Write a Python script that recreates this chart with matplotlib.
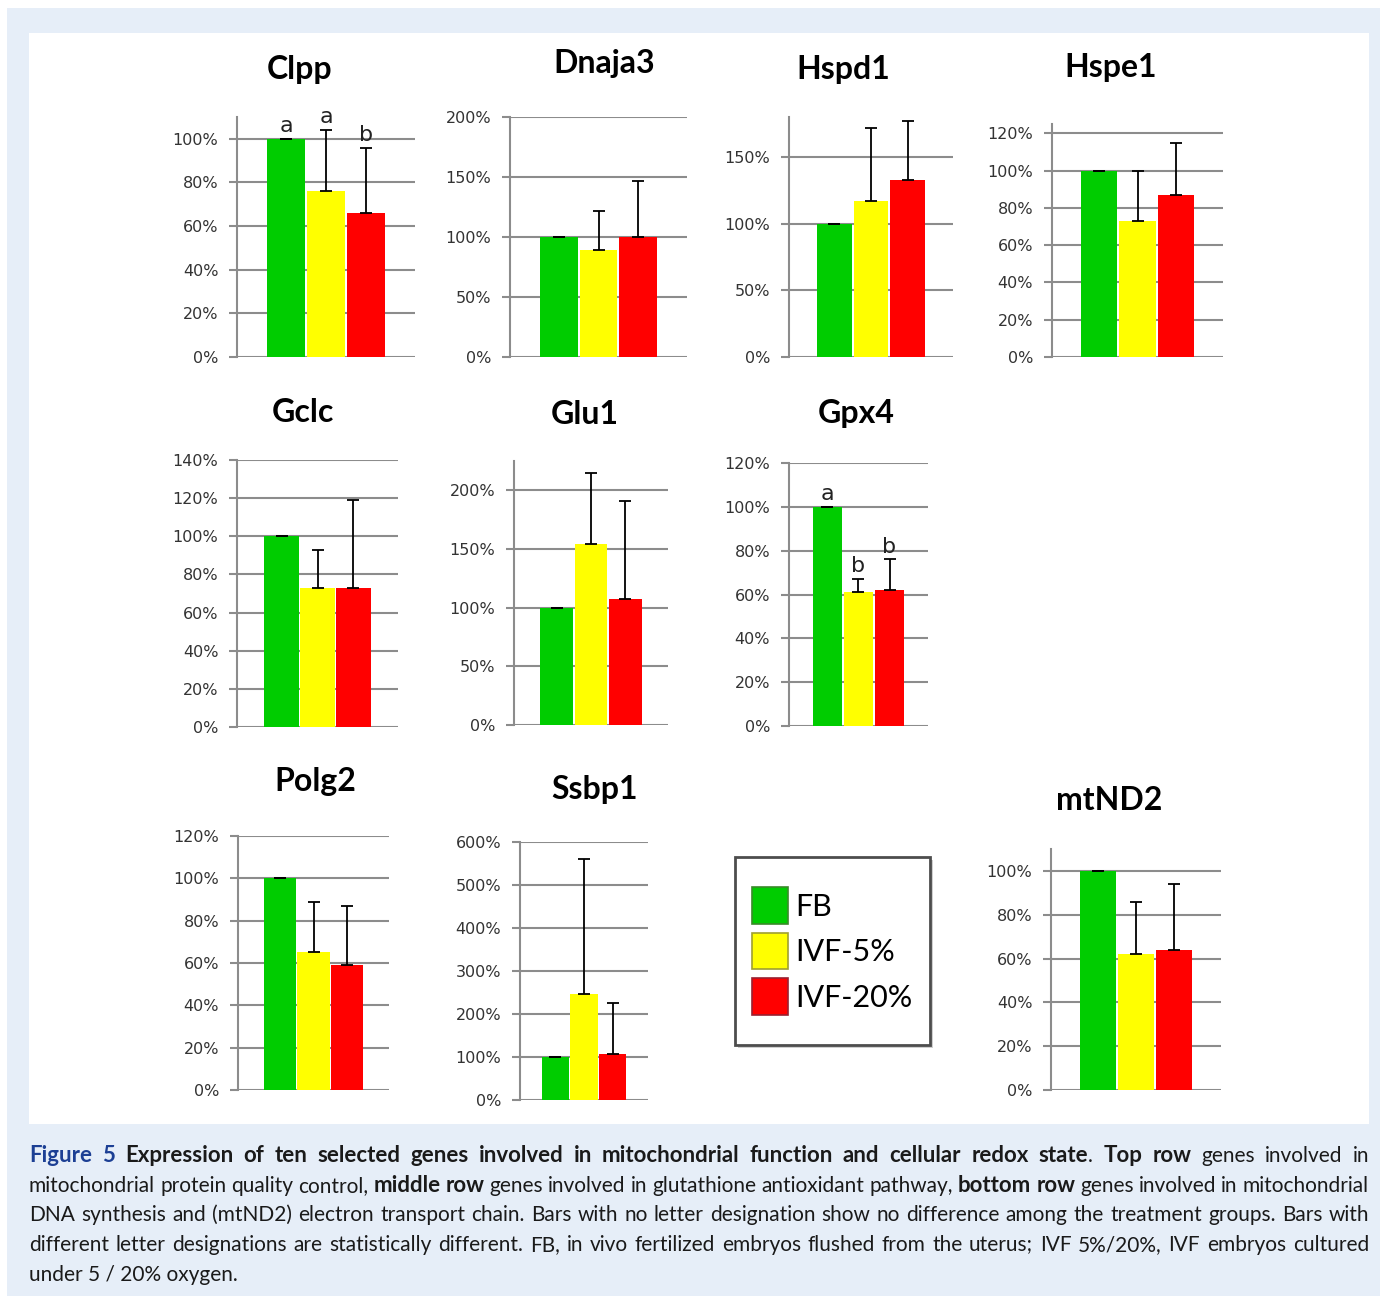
import matplotlib.pyplot as plt
from matplotlib.patches import Rectangle, Patch
from matplotlib.ticker import PercentFormatter, MultipleLocator

W, H = 1393, 1296

# data (percent of FB)
groups = ['FB', 'IVF-5%', 'IVF-20%']
colors = ['#00cc00', '#ffff00', '#ff0000']
edge_leg = ['#3a8a2a', '#a0a030', '#9a2030']

genes = ['Clpp', 'Dnaja3', 'Hspd1', 'Hspe1', 'Gclc', 'Glu1', 'Gpx4', 'Polg2', 'Ssbp1', 'mtND2']
means = {
    'Clpp':   [100, 76, 66],
    'Dnaja3': [100, 89, 100],
    'Hspd1':  [100, 117, 133],
    'Hspe1':  [100, 73, 87],
    'Gclc':   [100, 73, 73],
    'Glu1':   [100, 154, 107],
    'Gpx4':   [100, 61, 62],
    'Polg2':  [100, 65, 59],
    'Ssbp1':  [100, 247, 108],
    'mtND2':  [100, 62, 64],
}
errs = {
    'Clpp':   [0, 28, 30],
    'Dnaja3': [0, 33, 47],
    'Hspd1':  [0, 55, 44],
    'Hspe1':  [0, 27, 28],
    'Gclc':   [0, 20, 46],
    'Glu1':   [0, 61, 84],
    'Gpx4':   [0, 6, 14],
    'Polg2':  [0, 24, 28],
    'Ssbp1':  [0, 313, 117],
    'mtND2':  [0, 24, 30],
}
letters = {
    'Clpp': ['a', 'a', 'b'],
    'Gpx4': ['a', 'b', 'b'],
}
ymax = {'Clpp': 110, 'Dnaja3': 200, 'Hspd1': 180, 'Hspe1': 125, 'Gclc': 140,
        'Glu1': 225, 'Gpx4': 120, 'Polg2': 120, 'Ssbp1': 600, 'mtND2': 110}
ystep = {'Clpp': 20, 'Dnaja3': 50, 'Hspd1': 50, 'Hspe1': 20, 'Gclc': 20,
         'Glu1': 50, 'Gpx4': 20, 'Polg2': 20, 'Ssbp1': 100, 'mtND2': 20}

# layout in pixels: left, right, bottom, top of plot area; title centre
boxes = {
    'Clpp':   (237, 415, 357, 117),
    'Dnaja3': (510, 687, 357, 117),
    'Hspd1':  (789, 953, 357, 117),
    'Hspe1':  (1052, 1223, 357, 124),
    'Gclc':   (237, 398, 727, 460),
    'Glu1':   (514, 668, 725, 461),
    'Gpx4':   (789, 928, 726, 463),
    'Polg2':  (238, 389, 1090, 836),
    'Ssbp1':  (520, 648, 1100, 842),
    'mtND2':  (1051, 1221, 1090, 849),
}
title_pos = {
    'Clpp': (300, 70), 'Dnaja3': (604, 63), 'Hspd1': (843, 70), 'Hspe1': (1111, 68),
    'Gclc': (303, 412), 'Glu1': (585, 414), 'Gpx4': (856, 414),
    'Polg2': (315, 782), 'Ssbp1': (595, 790), 'mtND2': (1109, 800),
}

fig = plt.figure(figsize=(W / 100, H / 100), dpi=100)
fig.patch.set_facecolor('white')

def fx(x):
    return x / W

def fy(y):
    return 1 - y / H

# background panels
fig.patches.append(Rectangle((fx(7), 0), fx(1380 - 7), fy(8), transform=fig.transFigure,
                             facecolor='#e6eef8', edgecolor='none', zorder=-10))
fig.patches.append(Rectangle((fx(29), fy(1124)), fx(1369 - 29), (1124 - 33) / H,
                             transform=fig.transFigure, facecolor='white', edgecolor='none', zorder=-9))

grid_c = '#8c8c8c'
xpos = [-1, 0, 1]
for g in genes:
    l, r, b, t = boxes[g]
    ax = fig.add_axes([fx(l), fy(b), fx(r - l), (b - t) / H])
    ax.patch.set_alpha(0)
    ax.bar(xpos, means[g], width=0.95, color=colors, linewidth=0, zorder=2)
    ax.errorbar(xpos, means[g], yerr=[[0, 0, 0], errs[g]], fmt='none', ecolor='black',
                elinewidth=1.3, capsize=4, capthick=1.3, zorder=3)
    if g in letters:
        for xi, m, e, lab in zip(xpos, means[g], errs[g], letters[g]):
            ax.annotate(lab, (xi, m + e), xytext=(0, 2), textcoords='offset points',
                        ha='center', va='bottom', fontsize=16, color='#222222', zorder=4)
    ax.set_xlim(-2.24, 2.24)
    ax.set_ylim(0, ymax[g])
    ax.yaxis.set_major_locator(MultipleLocator(ystep[g]))
    ax.yaxis.set_major_formatter(PercentFormatter(xmax=100, decimals=0))
    ax.set_xticks([])
    for s in ['top', 'right', 'bottom']:
        ax.spines[s].set_visible(False)
    ax.spines['left'].set_color(grid_c)
    ax.spines['left'].set_linewidth(1.5)
    ax.yaxis.grid(True, color=grid_c, linewidth=1.5)
    ax.set_axisbelow(True)
    ax.tick_params(axis='y', length=5.5, width=1.5, color=grid_c, pad=8,
                   labelsize=11.5, labelcolor='#333333')
    tx, ty = title_pos[g]
    fig.text(fx(tx), fy(ty), g, ha='center', va='center', fontsize=23,
             fontweight='bold', family='Lato', color='black')

# legend: frame drawn by hand so its size matches the original box
lx0, lx1, ly0, ly1 = 735, 930, 857, 1045
fig.patches.append(Rectangle((fx(lx0 + 3), fy(ly1 + 3)), fx(lx1 - lx0), (ly1 - ly0) / H,
                             transform=fig.transFigure, facecolor='#b0b0b0', edgecolor='none',
                             alpha=0.6, zorder=1))
fig.patches.append(Rectangle((fx(lx0), fy(ly1)), fx(lx1 - lx0), (ly1 - ly0) / H,
                             transform=fig.transFigure, facecolor='white', edgecolor='#4d4d4d',
                             linewidth=2, zorder=2))
handles = [Patch(facecolor=c, edgecolor=e, linewidth=1.2) for c, e in zip(colors, edge_leg)]
leg = fig.legend(handles, groups, loc='center',
                 bbox_to_anchor=(fx((lx0 + lx1) / 2), fy((ly0 + ly1) / 2)),
                 borderaxespad=0, prop={'family': 'Lato', 'size': 22}, handlelength=1.15,
                 handleheight=1.45, handletextpad=0.25, labelspacing=0.3, borderpad=0.3,
                 frameon=False)
leg.set_zorder(5)

# caption, justified lines
blue = '#1c3f94'
B = 'bold'
N = 'normal'
K = '#1a1a1a'

def words(text, weight=N, color=K):
    return [[(w, weight, color)] for w in text.split()]

line1 = (words('Figure 5', B, blue)
         + words('Expression of ten selected genes involved in mitochondrial function and cellular redox', B)
         + [[('state', B, K), ('.', N, K)]]
         + words('Top row', B) + words('genes involved in'))
line2 = (words('mitochondrial protein quality control,') + words('middle row', B)
         + words('genes involved in glutathione antioxidant pathway,') + words('bottom row', B)
         + words('genes involved in mitochondrial'))
line3 = words('DNA synthesis and (mtND2) electron transport chain. Bars with no letter '
              'designation show no difference among the treatment groups. Bars with')
line4 = words('different letter designations are statistically different. FB, in vivo fertilized '
              'embryos flushed from the uterus; IVF 5%/20%, IVF embryos cultured')
cap_fs = {N: 15.0, B: 16.0}
x0, x1 = 29, 1369
renderer = fig.canvas.get_renderer()

def justified(tokens, ycen):
    placed = []
    for tok in tokens:
        pieces = []
        for s, wgt, c in tok:
            t = fig.text(0, fy(ycen), s, fontsize=cap_fs[wgt], fontweight=wgt, color=c,
                         family='Lato', va='baseline', ha='left')
            pieces.append((t, t.get_window_extent(renderer).width))
        placed.append(pieces)
    total = sum(wd for p in placed for _, wd in p)
    gap = (x1 - x0 - total) / (len(placed) - 1)
    x = x0
    for pieces in placed:
        for t, wd in pieces:
            t.set_x(fx(x))
            x += wd
        x += gap

for ln, yc in zip([line1, line2, line3, line4], [1162, 1192, 1221, 1251]):
    justified(ln, yc)
fig.text(fx(x0), fy(1281), 'under 5 / 20% oxygen.', fontsize=cap_fs[N], family='Lato',
         color=K, va='baseline', ha='left')

fig.savefig('out.png', dpi=100)
